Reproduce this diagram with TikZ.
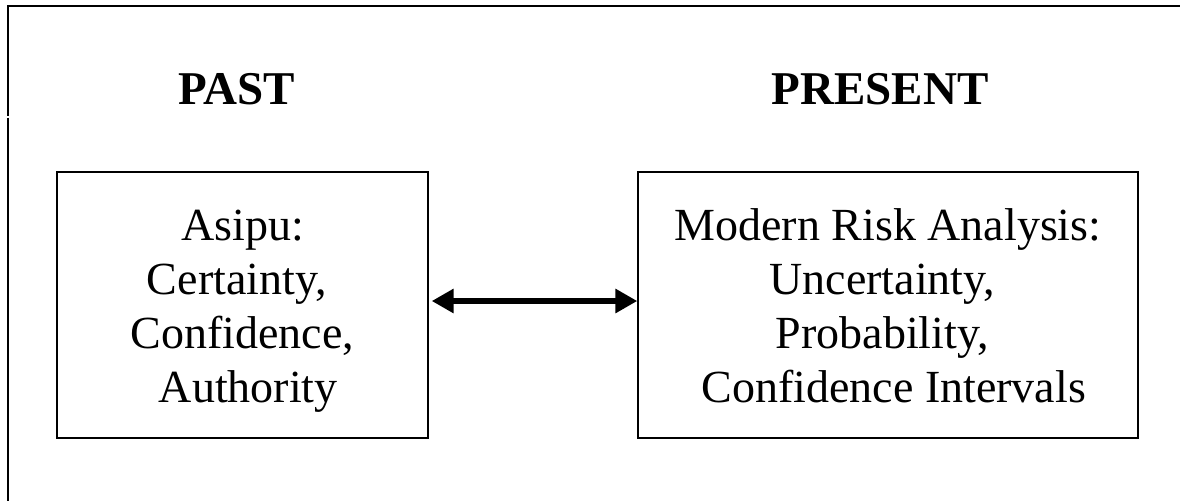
\documentclass[tikz,border=0pt]{standalone}
\usepackage{fontspec}
\setmainfont{Liberation Serif}
\usetikzlibrary{arrows.meta}
\begin{document}
\begin{tikzpicture}[x=0.75pt,y=-0.75pt,
  framestyle/.style={line width=1.9pt,line cap=butt},
  boxstyle/.style={draw,line width=1.1pt,inner sep=0pt,minimum height=199.5pt},
  titlestyle/.style={font=\fontsize{35.25pt}{40pt}\selectfont\bfseries,anchor=base,inner sep=0pt},
  bodystyle/.style={font=\fontsize{34.5pt}{40.5pt}\selectfont,align=center,anchor=base,inner sep=0pt},
  linkstyle/.style={line width=4pt,{Triangle[length=16.5pt,width=17.5pt]}-{Triangle[length=16.5pt,width=17.5pt]}}]
\useasboundingbox (0,0) rectangle (1180,501);
% outer frame (top and left only)
\coordinate (ftr) at (1180,6);
\coordinate (ftl) at (8,6);
\coordinate (fg1) at (8,116.2);
\coordinate (fg2) at (8,117.6);
\coordinate (fbl) at (8,501);
\draw[framestyle] (ftr) -- (ftl) -- (fg1);
\draw[framestyle] (fg2) -- (fbl);
% titles
\node[titlestyle] (past) at (236.5,104) {PAST};
\node[titlestyle] (present) at (880,104) {PRESENT};
% boxes
\node[boxstyle,minimum width=278.25pt] (lbox) at (242.5,305) {};
\node[boxstyle,minimum width=375pt] (rbox) at (888,305) {};
% box texts (base anchor = baseline of last line)
\node[bodystyle] (ltext) at (242.5,402) {Asipu:\\Certainty,\kern.25em\\Confidence,\\\kern.25em Authority};
\node[bodystyle] (rtext) at (888,402) {Modern Risk Analysis:\\Uncertainty,\kern.25em\\Probability,\kern.25em\\\kern.25em Confidence Intervals};
% connector
\draw[linkstyle,shorten <=2.25pt] ([yshift=3pt]lbox.east) -- ([yshift=3pt]rbox.west);
\end{tikzpicture}
\end{document}
